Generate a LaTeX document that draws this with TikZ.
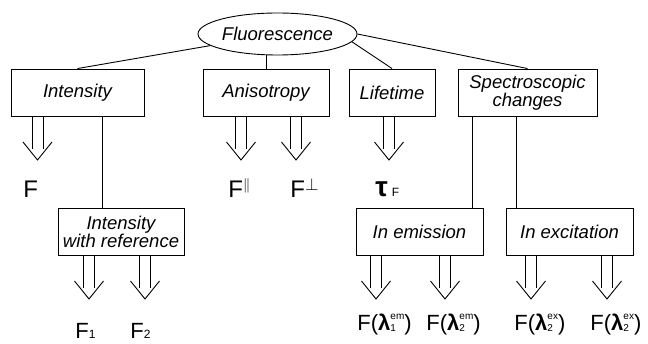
\documentclass[tikz,border=0pt]{standalone}
\usepackage{fontspec}
\setmainfont{Liberation Sans}
\usetikzlibrary{shapes.geometric}
\newcommand\supsub[2]{{\fontsize{10}{10}\selectfont\setbox0\hbox{#1}\setbox2\hbox{#2}%
  \ifdim\wd0>\wd2 \dimen0=\wd0 \else \dimen0=\wd2 \fi
  \hbox to\dimen0{\rlap{\raisebox{11pt}{\box0}}\raisebox{-0.5pt}{\box2}\hfil}}}
\begin{document}
\begin{tikzpicture}[x=1pt,y=-1pt,line width=0.9pt,
  box/.style={draw, rectangle, minimum height=47pt, inner sep=0pt, align=center,
    font=\fontsize{18.5}{18}\selectfont\itshape},
  lab/.style={anchor=base west, inner sep=0pt, font=\fontsize{24}{24}\selectfont},
  labs/.style={anchor=base west, inner sep=0pt, font=\fontsize{22}{22}\selectfont},
  dblarrow/.pic={\draw (-5.5,0) -- (-5.5,33) (5.5,0) -- (5.5,33);
                 \draw (-14.5,26) -- (0,44) -- (14.5,26);}]
\useasboundingbox (0,0) rectangle (648,344);

% nodes
\node[draw, ellipse, minimum width=159pt, minimum height=42pt, inner sep=0pt,
      font=\fontsize{18.5}{18}\selectfont\itshape] (fl) at (277.5,34) {Fluorescence};
\node[box, minimum width=133pt] (int)  at (77.5,92.5)  {Intensity};
\node[box, minimum width=126pt] (ani)  at (266,92.5)   {Anisotropy};
\node[box, minimum width=86pt]  (life) at (392,92.5)   {Lifetime};
\node[box, minimum width=139pt] (spec) at (527.5,92.5) {Spectroscopic\\changes};
\node[box, minimum width=126pt] (iwr)  at (121,231.5)  {Intensity\\with reference};
\node[box, minimum width=127pt] (em)   at (419.5,231.5) {In emission};
\node[box, minimum width=127pt] (ex)   at (569.5,231.5) {In excitation};

% connectors
\coordinate (iv) at (102,0);
\coordinate (s1) at (472,0);
\coordinate (s2) at (516,0);
\draw (fl) -- (int.north);
\draw (fl.south -| ani.north) -- (ani.north);
\draw (fl.-6) -- (life.north);
\draw (fl.east) -- (spec.north);
\draw (int.south -| iv) -- (iwr.north -| iv);
\draw (spec.south -| s1) -- (em.north -| s1);
\draw (spec.south -| s2) -- (ex.north -| s2);

% double arrows
\pic at (37.5,116) {dblarrow};
\pic at (241,116) {dblarrow};
\pic at (296,116) {dblarrow};
\pic at (389,116) {dblarrow};
\pic at (89,255) {dblarrow};
\pic at (145,255) {dblarrow};
\pic at (376,255) {dblarrow};
\pic at (445,255) {dblarrow};
\pic at (531,255) {dblarrow};
\pic at (607,255) {dblarrow};

% labels
\node[lab] (lF)    at (23,198)  {F};
\node[lab] (lFpar) at (228,198) {F\raisebox{8pt}{\fontsize{14}{14}\selectfont$\|$}};
\node[lab] (lFprp) at (290,198) {F\raisebox{7pt}{\fontsize{16}{16}\selectfont$\perp$}};
\node[lab] (ltau)  at (375,197) {{\fontsize{28}{28}\selectfont\bfseries τ}\,{\fontsize{12}{12}\selectfont F}};
\node[labs] (lF1)  at (75,339)  {F{\fontsize{12}{12}\selectfont 1}};
\node[labs] (lF2)  at (130,339) {F{\fontsize{12}{12}\selectfont 2}};
\node[labs] (le1)  at (357,331) {F(\textbf{λ}\supsub{em}{1})};
\node[labs] (le2)  at (426,331) {F(\textbf{λ}\supsub{em}{2})};
\node[labs] (lx1)  at (514,331) {F(\textbf{λ}\supsub{ex}{2})};
\node[labs] (lx2)  at (590,331) {F(\textbf{λ}\supsub{ex}{2})};
\end{tikzpicture}
\end{document}
